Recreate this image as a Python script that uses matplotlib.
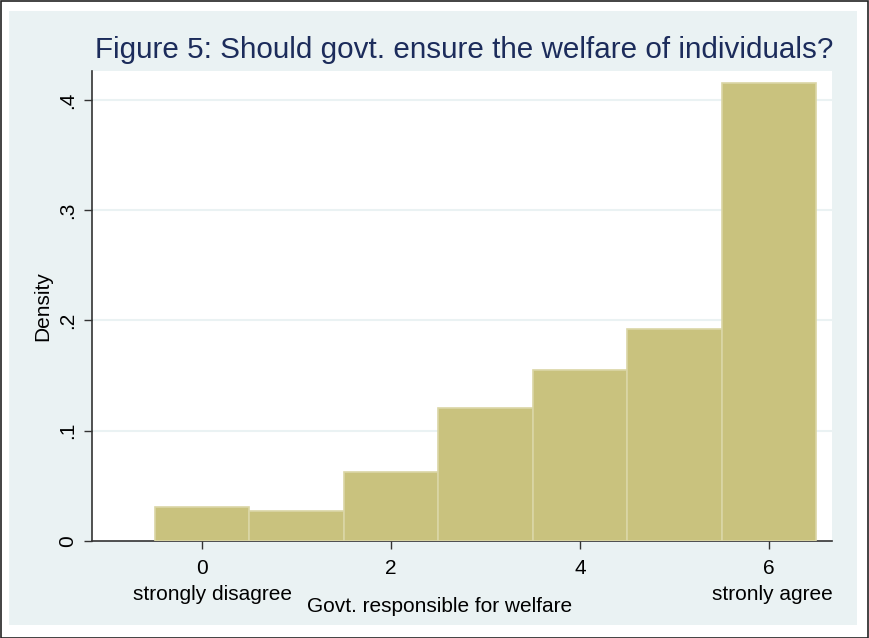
import matplotlib.pyplot as plt
from matplotlib.patches import Rectangle
from matplotlib.transforms import blended_transform_factory

# density of each response category (0 = strongly disagree ... 6 = strongly agree)
categories = [0, 1, 2, 3, 4, 5, 6]
density = [0.0308, 0.0272, 0.0626, 0.1206, 0.1551, 0.1923, 0.4154]

xticks = [0, 2, 4, 6]
yticks = [0, 0.1, 0.2, 0.3, 0.4]
ytick_labels = ['0', '.1', '.2', '.3', '.4']

title = 'Figure 5: Should govt. ensure the welfare of individuals?'
xlabel = 'Govt. responsible for welfare'
ylabel = 'Density'
low_label = 'strongly disagree'
high_label = 'stronly agree'

plt.rcParams['font.family'] = ['Liberation Sans', 'DejaVu Sans']

W, H = 869, 638
fig = plt.figure(figsize=(W / 100, H / 100), dpi=100, facecolor='white')

# outer frame and light background panel
fig.patches.append(Rectangle((0.5 / W, 0.5 / H), (W - 1.5) / W, (H - 1.5) / H,
                             transform=fig.transFigure, facecolor='white',
                             edgecolor='#222222', linewidth=1.2, zorder=-2))
fig.patches.append(Rectangle((9 / W, (H - 625) / H), (857 - 9) / W, (625 - 11) / H,
                             transform=fig.transFigure, facecolor='#EAF2F3',
                             edgecolor='none', zorder=-1))

left, right, top, bottom = 92, 832, 71, 541
ax = fig.add_axes([left / W, (H - bottom) / H, (right - left) / W, (bottom - top) / H])
ax.set_facecolor('white')

ax.bar(categories, density, width=1.0, color='#C9C27E', edgecolor='#DAD6A6',
       linewidth=1.2, zorder=3)

ax.set_xlim(-1.164, 6.667)
ax.set_ylim(0, 0.4263)

ax.set_xticks(xticks)
ax.set_yticks(yticks)
ax.set_yticklabels(ytick_labels, rotation=90, va='center')
ax.tick_params(axis='both', labelsize=15, length=6, width=1, color='#333333',
               direction='out', pad=5)
ax.tick_params(axis='x', pad=7)

for y in yticks[1:]:
    ax.axhline(y, color='#EAF2F3', linewidth=1.5, zorder=1)

for side in ['top', 'right']:
    ax.spines[side].set_visible(False)
for side in ['left', 'bottom']:
    ax.spines[side].set_color('#333333')
    ax.spines[side].set_linewidth(1.2)

ax.set_ylabel(ylabel, fontsize=15, labelpad=4)

trans = blended_transform_factory(ax.transData, ax.transAxes)
ax.annotate(low_label, xy=(0, 0), xycoords=trans, xytext=(11, -54),
            textcoords='offset pixels', ha='center', va='center', fontsize=15)
ax.annotate(high_label, xy=(6, 0), xycoords=trans, xytext=(3, -54),
            textcoords='offset pixels', ha='center', va='center', fontsize=15)
ax.annotate(xlabel, xy=(0.47, 0), xycoords='axes fraction', xytext=(0, -66),
            textcoords='offset pixels', ha='center', va='center', fontsize=15)

fig.text(464 / W, (H - 50) / H, title, ha='center', va='center',
         fontsize=21.3, color='#1C2C5B')

fig.savefig('out.png', dpi=100, facecolor='white')
